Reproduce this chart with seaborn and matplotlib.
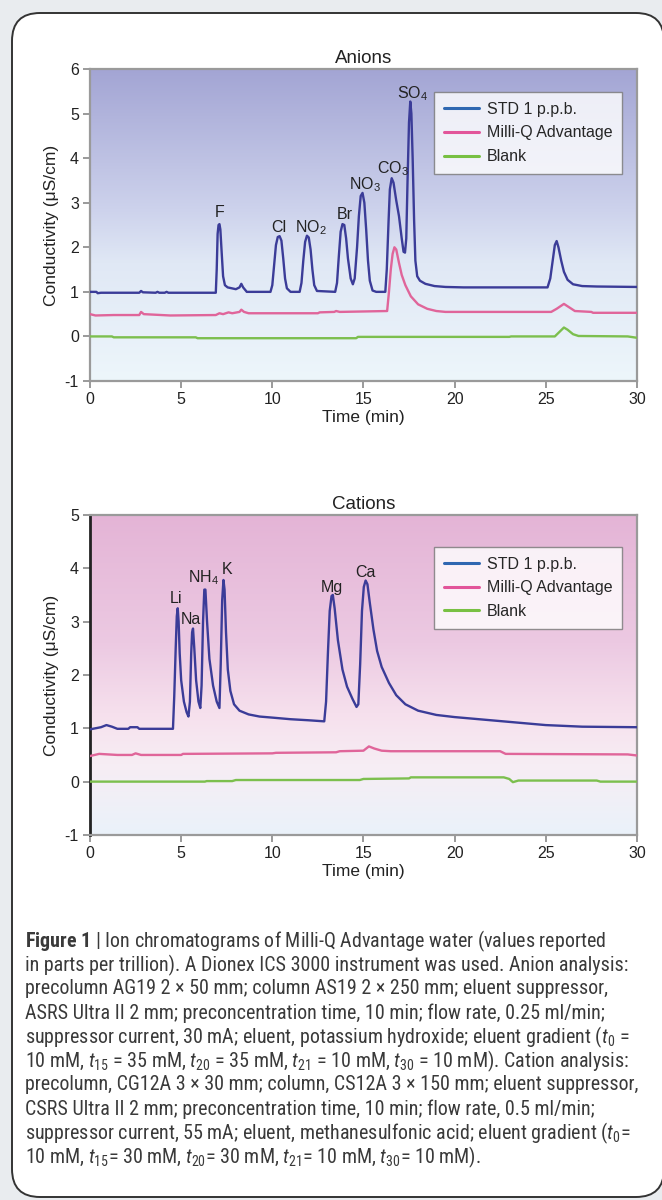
import numpy as np
import pandas as pd
import matplotlib
matplotlib.use("Agg")
import matplotlib.pyplot as plt
import seaborn as sns
from matplotlib.colors import LinearSegmentedColormap
from matplotlib.lines import Line2D
from matplotlib.patches import FancyBboxPatch
from matplotlib import font_manager

# 数据: 阴离子色谱 (时间 min, 电导 µS/cm)
anion_std_t = [0, 0.35, 0.42, 0.6, 2.7, 2.8, 2.9, 3.6, 3.7, 3.8, 4.1, 4.2, 4.3,
               6.9, 6.95, 7.0, 7.05, 7.1, 7.15, 7.22, 7.3, 7.4, 7.55, 8.0, 8.2, 8.3, 8.4, 8.6,
               9.9, 10.0, 10.1, 10.2, 10.3, 10.4, 10.5, 10.6, 10.7, 10.8, 11.0,
               11.5, 11.6, 11.7, 11.8, 11.9, 12.0, 12.1, 12.2, 12.3, 12.45,
               13.45, 13.55, 13.65, 13.75, 13.85, 13.95, 14.05, 14.15, 14.3, 14.42,
               14.52, 14.65, 14.75, 14.85, 14.95, 15.05, 15.15, 15.25, 15.35, 15.5, 15.7, 16.2,
               16.28, 16.38, 16.45, 16.55, 16.65, 16.8, 16.95, 17.1, 17.2, 17.28, 17.35,
               17.42, 17.5, 17.57, 17.63, 17.7, 17.78, 17.85, 17.95, 18.1, 18.4, 18.9, 19.5, 20.5,
               25.1, 25.25, 25.4, 25.5, 25.6, 25.7, 25.85, 26.0, 26.2, 26.5, 27.0, 27.8, 30]
anion_std_y = [1.0, 1.0, 0.97, 0.98, 0.98, 1.02, 0.99, 0.98, 1.0, 0.98, 0.98, 1.0, 0.98,
               0.98, 1.5, 2.3, 2.5, 2.52, 2.4, 1.9, 1.35, 1.15, 1.1, 1.06, 1.1, 1.18, 1.1, 1.0,
               1.0, 1.15, 1.6, 2.05, 2.23, 2.25, 2.15, 1.75, 1.3, 1.08, 1.0,
               1.0, 1.2, 1.7, 2.12, 2.26, 2.22, 1.95, 1.5, 1.15, 1.02,
               1.0, 1.2, 1.8, 2.35, 2.52, 2.5, 2.2, 1.75, 1.3, 1.17,
               1.3, 2.0, 2.7, 3.15, 3.22, 3.0, 2.4, 1.7, 1.25, 1.03, 1.0, 1.0,
               1.5, 2.6, 3.3, 3.55, 3.45, 3.05, 2.7, 2.2, 1.9, 1.88, 2.2,
               3.5, 4.8, 5.27, 5.0, 4.0, 2.6, 1.7, 1.35, 1.25, 1.18, 1.13, 1.11, 1.1,
               1.1, 1.3, 1.75, 2.05, 2.14, 2.0, 1.7, 1.45, 1.27, 1.17, 1.13, 1.12, 1.11]

anion_mq_t = [0, 0.3, 1.3, 2.7, 2.8, 2.95, 4.4, 6.9, 7.1, 7.3, 7.6, 7.8, 8.2, 8.3, 8.45, 8.7,
              12.5, 12.6, 13.4, 13.5, 13.7, 16.3, 16.4, 16.5, 16.6, 16.7, 16.8, 16.95, 17.1, 17.3,
              17.6, 18.0, 18.5, 19.0, 19.5, 25.3, 25.6, 26.0, 26.3, 26.6, 27.5, 27.6, 30]
anion_mq_y = [0.5, 0.47, 0.48, 0.48, 0.55, 0.5, 0.47, 0.48, 0.52, 0.5, 0.54, 0.52, 0.55, 0.6, 0.55, 0.52,
              0.52, 0.54, 0.55, 0.57, 0.55, 0.57, 1.0, 1.5, 1.85, 2.0, 1.95, 1.65, 1.38, 1.15,
              0.9, 0.72, 0.62, 0.57, 0.55, 0.55, 0.62, 0.73, 0.65, 0.57, 0.55, 0.53, 0.53]

anion_blank_t = [0, 1.2, 1.3, 5.8, 5.9, 14.6, 14.7, 23.0, 23.1, 25.5, 25.8, 26.0, 26.2, 26.5, 26.8, 29.5, 30]
anion_blank_y = [0.0, 0.0, -0.02, -0.02, -0.04, -0.04, -0.01, -0.01, 0.0, 0.0, 0.12, 0.2, 0.15, 0.05, 0.01, 0.0, -0.03]

# 数据: 阳离子色谱
cation_std_t = [0, 0.6, 0.9, 1.2, 1.5, 2.1, 2.2, 2.6, 2.7, 4.55,
                4.62, 4.7, 4.76, 4.81, 4.86, 4.92, 5.0, 5.15, 5.3, 5.4,
                5.48, 5.55, 5.6, 5.65, 5.72, 5.82, 5.95, 6.05,
                6.12, 6.2, 6.27, 6.33, 6.42, 6.55, 6.75, 6.95, 7.1,
                7.17, 7.25, 7.32, 7.38, 7.46, 7.56, 7.7, 7.9, 8.2, 8.7, 9.3, 10, 11, 12, 12.85,
                12.95, 13.05, 13.15, 13.25, 13.32, 13.42, 13.6, 13.85, 14.1, 14.4, 14.62,
                14.72, 14.82, 14.92, 15.02, 15.12, 15.22, 15.35, 15.55, 15.75, 16.0, 16.4, 16.8,
                17.3, 18.0, 19.0, 20.0, 22.0, 24.0, 25.0, 27.0, 30]
cation_std_y = [0.98, 1.02, 1.06, 1.03, 0.99, 0.99, 1.02, 1.02, 0.99, 0.99,
                1.6, 2.5, 3.1, 3.25, 3.0, 2.4, 1.9, 1.5, 1.3, 1.22,
                1.5, 2.4, 2.8, 2.87, 2.5, 1.9, 1.5, 1.38,
                1.8, 3.0, 3.6, 3.6, 3.0, 2.3, 1.8, 1.5, 1.38,
                2.2, 3.4, 3.78, 3.6, 2.8, 2.1, 1.7, 1.45, 1.33, 1.26, 1.22, 1.2, 1.17, 1.15, 1.13,
                1.5, 2.4, 3.2, 3.48, 3.5, 3.25, 2.65, 2.1, 1.78, 1.55, 1.4,
                1.45, 2.2, 3.2, 3.65, 3.77, 3.7, 3.35, 2.85, 2.45, 2.15, 1.85, 1.62,
                1.45, 1.33, 1.25, 1.21, 1.15, 1.09, 1.06, 1.03, 1.02]

cation_mq_t = [0, 0.5, 1.5, 2.3, 2.5, 2.8, 5.0, 5.1, 10.0, 10.2, 13.5, 13.7, 15.0, 15.3,
               15.6, 16.0, 16.5, 22.5, 22.8, 29.5, 30]
cation_mq_y = [0.48, 0.52, 0.5, 0.5, 0.53, 0.5, 0.5, 0.52, 0.53, 0.54, 0.55, 0.57, 0.58, 0.66,
               0.62, 0.58, 0.57, 0.57, 0.52, 0.51, 0.49]

cation_blank_t = [0, 6.3, 6.4, 7.8, 8.0, 14.8, 15.0, 17.5, 17.6, 22.7, 23.0, 23.2, 23.5, 27.8, 28.0, 30]
cation_blank_y = [0.0, 0.0, 0.01, 0.01, 0.03, 0.03, 0.05, 0.06, 0.08, 0.08, 0.05, -0.01, 0.02, 0.02, 0.0, 0.0]

series_names = ["STD 1 p.p.b.", "Milli-Q Advantage", "Blank"]
line_colors = ["#3b3c98", "#e0659a", "#7cbf4e"]
legend_colors = ["#2f67b1", "#e2559a", "#78c043"]

anion_labels = ["F", "Cl", "NO$_2$", "Br", "NO$_3$", "CO$_3$", "SO$_4$"]
anion_label_t = [7.13, 10.37, 12.1, 13.96, 15.07, 16.6, 17.7]
anion_label_y = [2.67, 2.34, 2.34, 2.64, 3.31, 3.65, 5.35]

cation_labels = ["Li", "Na", "NH$_4$", "K", "Mg", "Ca"]
cation_label_t = [4.7, 5.56, 6.22, 7.5, 13.26, 15.09]
cation_label_y = [3.35, 2.96, 3.74, 3.9, 3.56, 3.83]

caption_lines = [
    r"$\mathbf{Figure\ 1}$ | Ion chromatograms of Milli-Q Advantage water (values reported",
    "in parts per trillion). A Dionex ICS 3000 instrument was used. Anion analysis:",
    "precolumn AG19 2 × 50 mm; column AS19 2 × 250 mm; eluent suppressor,",
    "ASRS Ultra II 2 mm; preconcentration time, 10 min; flow rate, 0.25 ml/min;",
    r"suppressor current, 30 mA; eluent, potassium hydroxide; eluent gradient ($\mathit{t}_0$ =",
    r"10 mM, $\mathit{t}_{15}$ = 35 mM, $\mathit{t}_{20}$ = 35 mM, $\mathit{t}_{21}$ = 10 mM, $\mathit{t}_{30}$ = 10 mM). Cation analysis:",
    "precolumn, CG12A 3 × 30 mm; column, CS12A 3 × 150 mm; eluent suppressor,",
    "CSRS Ultra II 2 mm; preconcentration time, 10 min; flow rate, 0.5 ml/min;",
    r"suppressor current, 55 mA; eluent, methanesulfonic acid; eluent gradient ($\mathit{t}_0$=",
    r"10 mM, $\mathit{t}_{15}$= 30 mM, $\mathit{t}_{20}$= 30 mM, $\mathit{t}_{21}$= 10 mM, $\mathit{t}_{30}$= 10 mM).",
]

sns.set_style("white")
names = {f.name for f in font_manager.fontManager.ttflist}
cap_font = "Liberation Sans"
for cand in ["Liberation Sans Narrow", "Roboto Condensed", "DejaVu Sans Condensed", "Open Sans Condensed"]:
    if cand in names:
        cap_font = cand
        break
plt.rcParams['font.family'] = ['Liberation Sans', 'DejaVu Sans']
plt.rcParams['axes.unicode_minus'] = False
plt.rcParams['mathtext.fontset'] = 'custom'
plt.rcParams['mathtext.default'] = 'regular'
plt.rcParams['mathtext.rm'] = cap_font
plt.rcParams['mathtext.it'] = cap_font + ':italic'
plt.rcParams['mathtext.bf'] = cap_font + ':bold'


def make_df(ts, ys):
    parts = []
    for name, t, y in zip(series_names, ts, ys):
        parts.append(pd.DataFrame({"time": t, "value": y, "series": name}))
    return pd.concat(parts, ignore_index=True)


anion_df = make_df([anion_std_t, anion_mq_t, anion_blank_t], [anion_std_y, anion_mq_y, anion_blank_y])
cation_df = make_df([cation_std_t, cation_mq_t, cation_blank_t], [cation_std_y, cation_mq_y, cation_blank_y])

fig = plt.figure(figsize=(6.62, 12), dpi=100)
fig.patch.set_facecolor("#e9ecef")
box = FancyBboxPatch((12, 3), 652, 1184, boxstyle="round,pad=0,rounding_size=28",
                     transform=None, facecolor="white", edgecolor="#333333", linewidth=1.4, zorder=-5)
fig.patches.append(box)

ax1 = fig.add_axes([0.136, 0.6825, 0.826, 0.26])
ax2 = fig.add_axes([0.136, 0.3042, 0.826, 0.2667])

anion_cmap = LinearSegmentedColormap.from_list("an", [
    (0.0, (163/255, 165/255, 212/255)), (0.45, (205/255, 210/255, 236/255)),
    (0.62, (224/255, 232/255, 245/255)), (1.0, (237/255, 246/255, 251/255))])
cation_cmap = LinearSegmentedColormap.from_list("ca", [
    (0.0, (228/255, 180/255, 214/255)), (0.4, (236/255, 201/255, 226/255)),
    (0.62, (246/255, 224/255, 237/255)), (0.78, (247/255, 237/255, 244/255)),
    (1.0, (234/255, 242/255, 250/255))])

grad = np.linspace(0, 1, 256).reshape(-1, 1)

for ax, df, cmap, title, ymax, labels, lt, ly in [
        (ax1, anion_df, anion_cmap, "Anions", 6, anion_labels, anion_label_t, anion_label_y),
        (ax2, cation_df, cation_cmap, "Cations", 5, cation_labels, cation_label_t, cation_label_y)]:
    ax.set_zorder(2)
    ax.imshow(grad, cmap=cmap, aspect="auto", extent=[0, 1, 0, 1],
              transform=ax.transAxes, zorder=0, origin="upper")
    sns.lineplot(data=df, x="time", y="value", hue="series", palette=line_colors,
                 estimator=None, sort=False, legend=False, linewidth=1.7, ax=ax, zorder=3)
    ax.set_xlim(0, 30)
    ax.set_ylim(-1, ymax)
    ax.set_xticks([0, 5, 10, 15, 20, 25, 30])
    ax.set_yticks(range(-1, ymax + 1))
    for s in ax.spines.values():
        s.set_color("#9a9a9a")
        s.set_linewidth(1.6)
    ax.tick_params(direction="out", length=5, width=1.4, color="#9a9a9a",
                   labelsize=11.5, pad=3, left=True, bottom=True, labelcolor="#222222")
    ax.set_xlabel("Time (min)", fontsize=12.5, labelpad=2, color="#222222")
    ax.set_ylabel("Conductivity (μS/cm)", fontsize=12.5, labelpad=4, color="#222222")
    ax.set_title(title, fontsize=13.5, pad=4, color="#222222")
    for lab, t, y in zip(labels, lt, ly):
        ax.text(t, y, lab, fontsize=11.5, ha="center", va="baseline", color="#222222", zorder=4)
    handles = [Line2D([0], [0], color=c, lw=2.2) for c in legend_colors]
    leg = ax.legend(handles, series_names, loc="upper right",
                    bbox_to_anchor=(0.973, 0.926 if ymax == 6 else 0.90), borderaxespad=0,
                    fontsize=11.5, frameon=True, fancybox=False, handlelength=2.2,
                    handletextpad=0.5, borderpad=0.6, labelspacing=0.55)
    leg.get_frame().set_edgecolor("#777777")
    leg.get_frame().set_linewidth(1.0)
    leg.set_zorder(5)

ax2.spines["left"].set_color("#222222")
ax2.spines["left"].set_linewidth(2)

# 图注
fig.canvas.draw()
r = fig.canvas.get_renderer()
y0 = 1200 - 941
size = 11.5
probe = fig.text(0, 0, caption_lines[6], fontsize=size, family=cap_font)
w = probe.get_window_extent(r).width
probe.remove()
size = size * 613 / w
for i, line in enumerate(caption_lines):
    fig.text(25 / 662, (y0 - 24 * i) / 1200, line, fontsize=size, family=cap_font,
             color="#3a3a3a", va="center", ha="left")

fig.savefig("out.png", dpi=100, facecolor=fig.get_facecolor())
